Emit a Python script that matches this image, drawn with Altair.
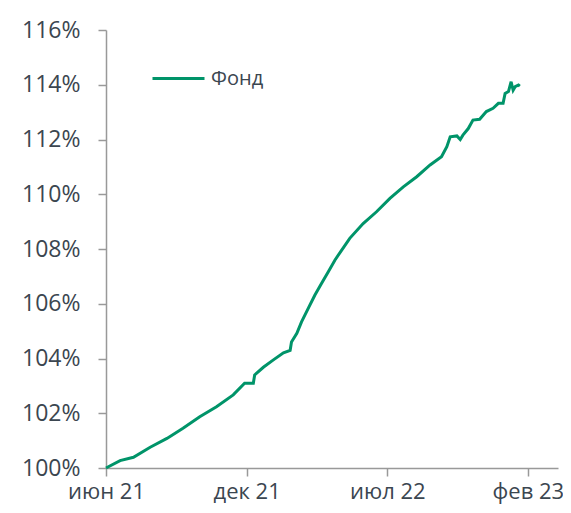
import altair as alt
import pandas as pd

# day offsets from the start of the series (June 2021) and fund value, %
days = [0, 21, 41, 66, 91, 115, 140, 165, 190, 207, 220, 222, 235, 250, 265,
        275, 277, 285, 292, 302, 312, 322, 332, 342, 352, 364, 384, 404, 424,
        444, 464, 484, 501, 509, 514, 524, 529, 533, 541, 548, 558, 568, 578,
        586, 593, 596, 601, 605, 608, 611, 616, 618]
values = [100.0, 100.27, 100.39, 100.76, 101.08, 101.45, 101.87, 102.24, 102.67,
          103.1, 103.1, 103.4, 103.68, 103.95, 104.21, 104.3, 104.6, 104.92,
          105.34, 105.83, 106.32, 106.75, 107.17, 107.6, 107.96, 108.39, 108.93,
          109.36, 109.85, 110.27, 110.64, 111.07, 111.37, 111.74, 112.1, 112.13,
          112.0, 112.16, 112.4, 112.71, 112.74, 113.02, 113.14, 113.32, 113.32,
          113.68, 113.75, 114.11, 113.8, 113.93, 113.99, 113.95]
series_name = "Фонд"

tick_days = [0, 210, 420, 630]
tick_labels = ["июн 21", "дек 21", "июл 22", "фев 23"]
y_ticks = [100, 102, 104, 106, 108, 110, 112, 114, 116]

df = pd.DataFrame({"day": days, "value": values, "series": series_name})

label_expr = " : ".join(
    f"datum.value == {d} ? '{l}'" for d, l in zip(tick_days, tick_labels)
) + " : ''"

green = "#009469"
text_col = "#3b4650"
axis_col = "#999999"
font = "Open Sans"

chart = alt.Chart(df).mark_line(strokeWidth=3).encode(
    x=alt.X("day:Q",
            scale=alt.Scale(domain=[0, 675], nice=False, zero=False),
            axis=alt.Axis(values=tick_days, labelExpr=label_expr, title=None,
                          grid=False, tickSize=8, labelPadding=5,
                          labelFontSize=22, labelColor=text_col, labelFont=font,
                          domainColor=axis_col, tickColor=axis_col,
                          domainWidth=1.5, tickWidth=1.5, labelFlush=False)),
    y=alt.Y("value:Q",
            scale=alt.Scale(domain=[100, 116], nice=False, zero=False),
            axis=alt.Axis(values=y_ticks, labelExpr="datum.value + '%'",
                          title=None, grid=False, tickSize=8, labelPadding=18,
                          labelFontSize=23, labelColor=text_col, labelFont=font,
                          domainColor=axis_col, tickColor=axis_col,
                          domainWidth=1.5, tickWidth=1.5)),
    color=alt.Color("series:N",
                    scale=alt.Scale(domain=[series_name], range=[green]),
                    legend=alt.Legend(title=None, orient="none", legendX=45,
                                      legendY=21, symbolType="stroke",
                                      symbolSize=2704, symbolStrokeWidth=3,
                                      labelFontSize=20, labelColor=text_col,
                                      labelFont=font, labelOffset=5, padding=0)),
).properties(
    width=452, height=438,
    autosize=alt.AutoSizeParams(type="none"),
    padding={"left": 98, "top": 22, "right": 5, "bottom": 37},
).configure_view(stroke=None)

chart.save("out.html", embed_options={"renderer": "svg", "actions": False})
